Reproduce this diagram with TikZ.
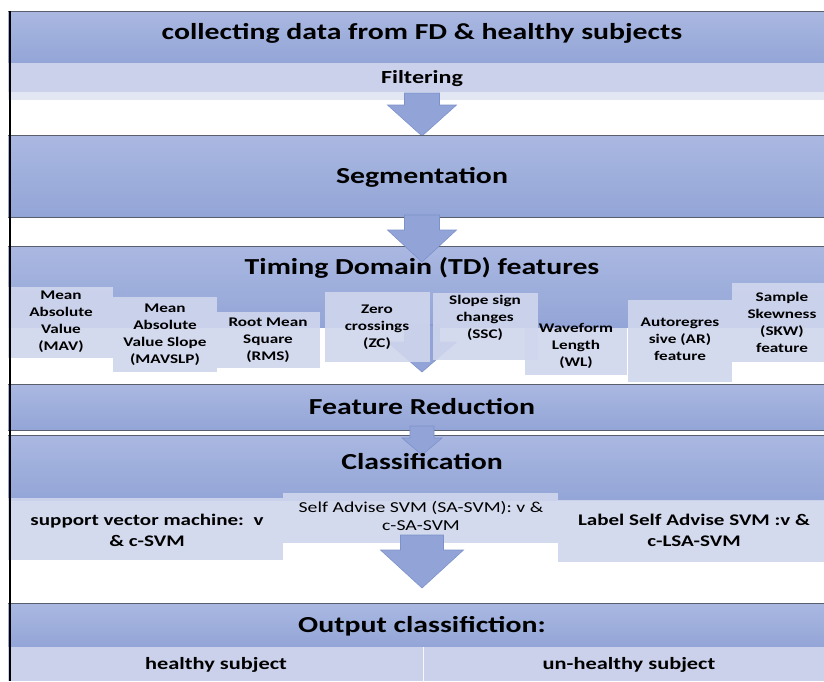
\documentclass[tikz,border=0pt]{standalone}
\usepackage{fontspec}
\setmainfont{Carlito}[FakeStretch=1.3]
\usetikzlibrary{positioning}
\definecolor{bandtop}{HTML}{AAB8E1}
\definecolor{bandbot}{HTML}{93A5D7}
\definecolor{lightband}{HTML}{CBD1EA}
\definecolor{strip}{HTML}{E3E7F4}
\definecolor{boxfill}{HTML}{D0D6ED}
\definecolor{arrowfill}{HTML}{92A4D7}
\definecolor{arrowedge}{HTML}{7D91CB}
\definecolor{rule}{HTML}{5A5F6E}
\tikzset{
  band/.style={top color=bandtop, bottom color=bandbot, draw=none},
  bandline/.style={draw=rule, line width=0.9pt},
  title/.style={font=\fontsize{22.9}{26}\selectfont\bfseries, text=black},
  feat/.style={fill=boxfill, fill opacity=0.9, text opacity=1, draw=none,
               align=center, font=\fontsize{13.2}{17}\selectfont\bfseries, inner sep=0pt},
  clsbox/.style={fill=boxfill, fill opacity=0.9, text opacity=1, draw=none,
               align=center, inner sep=0pt},
  blockarrow/.style={fill=arrowfill, draw=arrowedge, line width=0.6pt, line join=miter},
}
% block arrow: centre x, top y, y where the head starts, tip y, half shaft, half head
\newcommand{\downblock}[6]{%
  \path[blockarrow] (#1-#5,#2) -- (#1+#5,#2) -- (#1+#5,#3) -- (#1+#6,#3)
    -- (#1,#4) -- (#1-#6,#3) -- (#1-#5,#3) -- cycle;}
\begin{document}
\begin{tikzpicture}[x=1pt,y=-1pt]
\useasboundingbox (0,0) rectangle (824,681);
\fill[white] (0,0) rectangle (824,681);

% collecting data
\path[band] (8,11) rectangle (824,63);
\draw[bandline] (8,11) -- (824,11);
\node[title] (collect) at (422,33) {collecting data from FD \& healthy subjects};

% filtering
\fill[lightband] (8,63) rectangle (824,92);
\fill[strip] (8,92) rectangle (824,100);
\node[font=\fontsize{18.5}{21}\selectfont\bfseries] (filter) at (422,79) {Filtering};
\downblock{422}{93}{105}{136}{17.5}{34.5}

% segmentation
\path[band] (8,135) rectangle (824,217);
\draw[bandline] (8,135) -- (824,135);
\draw[bandline] (8,217) -- (824,217);
\node[title] (seg) at (422,177) {Segmentation};

% timing domain features
\path[band] (8,246) rectangle (824,327);
\draw[bandline] (8,246) -- (824,246);
\downblock{422}{215}{230}{262}{17.5}{34.5}
\node[title] (td) at (422,268) {Timing Domain (TD) features};
\downblock{422}{325}{342}{372}{17.5}{34.5}

\path[feat] (8,287) rectangle (113,358);
\node[feat, fill=none] (mav) at (61,322) {Mean\\Absolute\\Value\\(MAV)};
\path[feat] (113,297) rectangle (217,372);
\node[feat, fill=none] (mavslp) at (165,335) {Mean\\Absolute\\Value Slope\\(MAVSLP)};
\path[feat] (217,312) rectangle (320,368);
\node[feat, fill=none] (rms) at (268,340) {Root Mean\\Square\\(RMS)};
\path[feat] (325,292) rectangle (430,362);
\node[feat, fill=none] (zc) at (377,327) {Zero\\crossings\\(ZC)};
\path[feat] (433,293) rectangle (538,360);
\node[feat, fill=none] (ssc) at (485,318) {Slope sign\\changes\\(SSC)};
\path[feat] (525,328) rectangle (627,375);
\node[feat, fill=none] (wl) at (576,346) {Waveform\\Length\\(WL)};
\path[feat] (628,300) rectangle (732,382);
\node[feat, fill=none] (ar) at (680,339) {Autoregres\\sive (AR)\\feature};
\path[feat] (732,283) rectangle (824,362);
\node[feat, fill=none] (skw) at (782,322) {Sample\\Skewness\\(SKW)\\feature};

% feature reduction
\path[band] (8,384) rectangle (824,430);
\draw[bandline] (8,384) -- (824,384);
\draw[bandline] (8,430) -- (824,430);
\node[title] (fr) at (422,407) {Feature Reduction};

% classification
\path[band] (8,435) rectangle (824,500);
\draw[bandline] (8,435) -- (824,435);
\downblock{422}{426}{438}{455}{12}{20}
\node[title] (cls) at (422,462) {Classification};

\path[clsbox] (8,498) rectangle (283,560);
\node[font=\fontsize{16.2}{21}\selectfont\bfseries, align=center] (svm) at (147,530)
  {support vector machine:~~v\\\& c-SVM};
\path[clsbox] (283,493) rectangle (558,543);
\node[font=\fontsize{15.2}{18}\selectfont, align=center] (sasvm) at (421,516)
  {Self Advise SVM (SA-SVM): v \&\\c-SA-SVM};
\path[clsbox] (558,500) rectangle (824,562);
\node[font=\fontsize{16.2}{21}\selectfont\bfseries, align=center] (lsasvm) at (694,530)
  {Label Self Advise SVM :v \&\\c-LSA-SVM};
\downblock{422}{535}{550}{588}{21.5}{41.5}

% output
\path[band] (8,603) rectangle (824,647);
\draw[bandline] (8,603) -- (824,603);
\node[title] (out) at (422,626) {Output classifiction:};
\fill[lightband] (8,647) rectangle (824,681);
\draw[white!85!lightband, line width=1pt] (423,647) -- (423,681);
\node[font=\fontsize{17.2}{20}\selectfont\bfseries] (healthy) at (216,665) {healthy subject};
\node[font=\fontsize{17.2}{20}\selectfont\bfseries] (unhealthy) at (629,665) {un-healthy subject};

% left rule
\draw[black, line width=1.1pt] (10,11) -- (10,681);
\end{tikzpicture}
\end{document}
